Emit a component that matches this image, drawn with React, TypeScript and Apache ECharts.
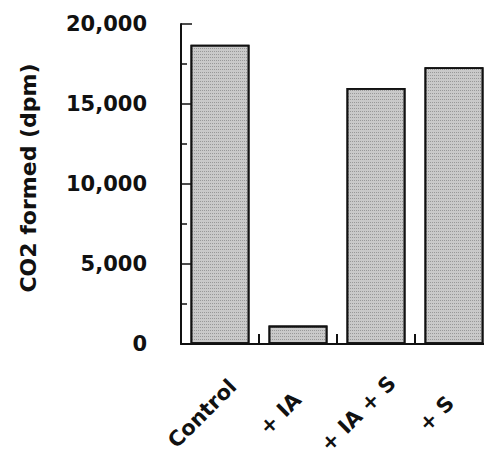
import React, { useEffect, useRef } from "react";
import * as echarts from "echarts";

const categories = ["Control", "+ IA", "+ IA + S", "+ S"];
const co2Values = [18700, 1150, 16000, 17300];
const yTicks = [0, 5000, 10000, 15000, 20000];
const yAxisTitle = "CO2 formed (dpm)";

const FONT = "'DejaVu Sans', 'Liberation Sans', Arial, sans-serif";

export default function App() {
  const ref = useRef<HTMLDivElement>(null);
  useEffect(() => {
    if (!ref.current) return;
    const chart = echarts.init(ref.current, undefined, { renderer: "svg" });
    chart.setOption({
      animation: false,
      backgroundColor: "#ffffff",
      grid: {
        left: 181,
        top: 24,
        width: 312,
        height: 320,
        containLabel: false,
        outerBoundsMode: "none",
      },
      xAxis: {
        type: "category",
        data: categories,
        boundaryGap: true,
        axisLine: { show: true, lineStyle: { color: "#111", width: 2 } },
        axisTick: { show: true, inside: true, length: 10, alignWithLabel: false, lineStyle: { color: "#111", width: 2 } },
        axisLabel: {
          interval: 0,
          rotate: 45,
          margin: 52,
          align: "center",
          verticalAlign: "middle",
          padding: [0, 50, 0, 0],
          color: "#111",
          fontFamily: FONT,
          fontWeight: "bold",
          fontSize: 21,
        },
        splitLine: { show: false },
      },
      yAxis: {
        type: "value",
        min: yTicks[0],
        max: yTicks[yTicks.length - 1],
        interval: 5000,
        name: yAxisTitle,
        nameLocation: "middle",
        nameGap: 142,
        nameRotate: 90,
        nameTextStyle: {
          color: "#111",
          fontFamily: FONT,
          fontWeight: "bold",
          fontSize: 22,
          padding: [0, 0, 0, 12],
        },
        axisLine: { show: true, lineStyle: { color: "#111", width: 2 } },
        axisTick: { show: true, inside: true, length: 11, lineStyle: { color: "#111", width: 1.5 } },
        minorTick: { show: true, splitNumber: 2, length: 6, lineStyle: { color: "#111", width: 1.5 } },
        axisLabel: {
          margin: 34,
          color: "#111",
          fontFamily: FONT,
          fontWeight: "bold",
          fontSize: 21,
          formatter: (v: number) => v.toLocaleString("en-US"),
        },
        splitLine: { show: false },
      },
      series: [
        {
          type: "bar",
          data: co2Values,
          barWidth: 59,
          itemStyle: {
            color: "#c9c9c9",
            borderColor: "#111",
            borderWidth: 1.8,
            decal: {
              symbol: "rect",
              symbolSize: 1,
              dashArrayX: [1, 1],
              dashArrayY: [1, 2],
              color: "rgba(60,60,60,0.35)",
            },
          },
        },
      ],
    });
    return () => chart.dispose();
  }, []);
  return (
    <div
      ref={ref}
      style={{ position: "absolute", left: 0, top: 0, width: 484, height: 456 }}
    />
  );
}
